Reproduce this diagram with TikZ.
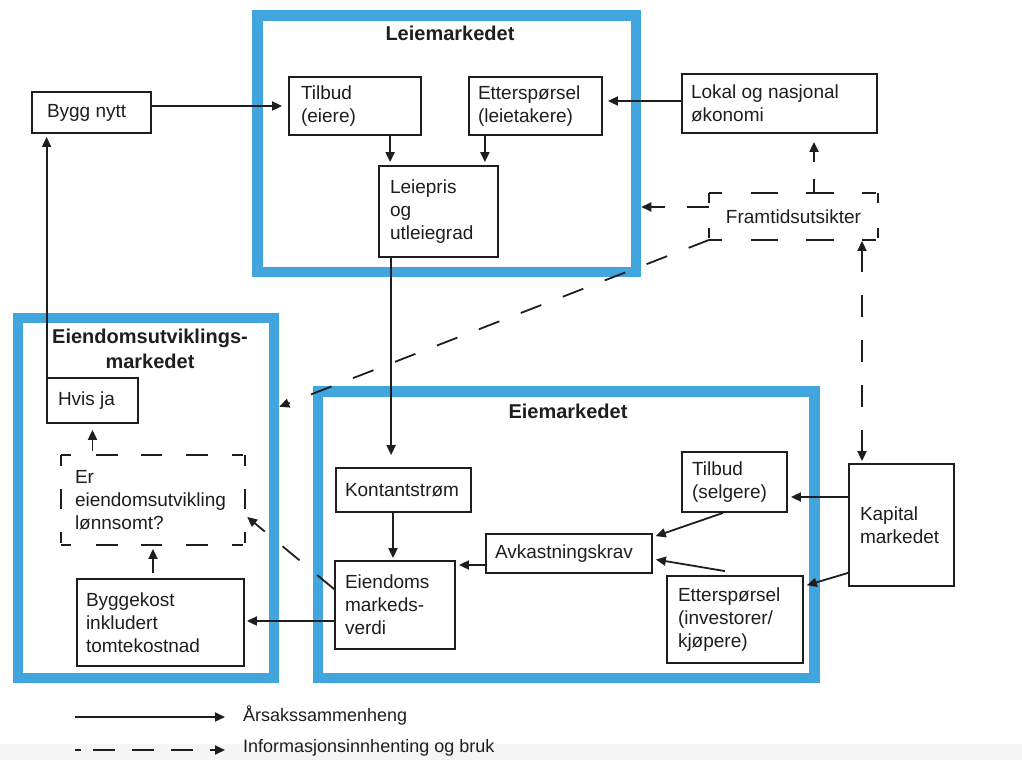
\documentclass[tikz,border=0pt]{standalone}
\usepackage{fontspec}
\setmainfont{Liberation Sans}
\usetikzlibrary{arrows.meta,calc}
\definecolor{frameblue}{RGB}{66,166,222}
\definecolor{ink}{RGB}{30,30,30}
\definecolor{stripgray}{RGB}{245,245,245}
\begin{document}
\begin{tikzpicture}[x=1pt,y=-1pt,
  frame/.style={draw=frameblue, line width=10.5pt, inner sep=0pt},
  title/.style={font=\fontsize{20}{25}\selectfont\bfseries, text=ink, inner sep=0pt},
  box/.style n args={3}{draw=ink, line width=1.8pt, fill=white, align=flush left,
    inner xsep=0pt, inner ysep=0pt, minimum width=#1, minimum height=#2, text width=#3,
    font=\fontsize{19}{23}\selectfont, text=ink},
  openbox/.style={draw=none},
  dside/.style={draw=ink, line width=1.8pt, line cap=square},
  arr/.style={draw=ink, line width=1.8pt, -{Triangle[length=10pt,width=9pt]}},
  darr/.style={arr, dash pattern=on 22pt off 23pt},
  legendtext/.style={font=\fontsize{18}{22}\selectfont, text=ink, inner sep=0pt, anchor=west}
]
\useasboundingbox (0,0) rectangle (1022,760);
\fill[stripgray] (0,744) rectangle (1022,760);

% market frames
\node[frame, minimum width=378.5pt, minimum height=256.5pt] (leie) at (446.75,143.75) {};
\node[frame, minimum width=256pt, minimum height=360pt] (eu) at (146,498) {};
\node[frame, minimum width=496.5pt, minimum height=286.5pt] (eie) at (566.25,534.75) {};
\node[title] (tleie) at (450,33) {Leiemarkedet};
\node[title, align=center] (teu) at (150,348.5) {Eiendomsutviklings-\\markedet};
\node[title] (teie) at (568,411) {Eiemarkedet};

% boxes
\node[box={119pt}{41pt}{89pt}] (bygg) at (91.5,112.5) {Bygg nytt};
\node[box={132pt}{58pt}{108pt}] (tilbudE) at (355,106) {Tilbud\\(eiere)};
\node[box={133pt}{58pt}{115pt}] (ettL) at (535.5,106) {Etterspørsel\\(leietakere)};
\node[box={119pt}{91pt}{97pt}] (leiepris) at (438.5,211.5) {Leiepris\\og\\utleiegrad};
\node[box={195pt}{59pt}{177pt}] (lokal) at (779.5,103.5) {Lokal og nasjonal\\økonomi};
\node[box={167pt}{45pt}{150pt}, openbox, align=center] (framtid) at (793.5,216.5) {Framtidsutsikter};
\node[box={91pt}{45pt}{69pt}] (hvis) at (92.5,400.5) {Hvis ja};
\node[box={182pt}{88pt}{156pt}, openbox] (er) at (153,500) {Er\\eiendomsutvikling\\lønnsomt?};
\node[box={167pt}{87pt}{149pt}] (bygge) at (160.5,622.5) {Byggekost\\inkludert\\tomtekostnad};
\node[box={135pt}{44pt}{117pt}] (kontant) at (403.5,490) {Kontantstrøm};
\node[box={120pt}{88pt}{100pt}] (eiendom) at (395,605) {Eiendoms\\markeds-\\verdi};
\node[box={166pt}{39pt}{148pt}] (avk) at (569,553.5) {Avkastningskrav};
\node[box={105pt}{60pt}{85pt}] (tsel) at (734.5,482) {Tilbud\\(selgere)};
\node[box={136pt}{87pt}{114pt}] (etti) at (735,619.5) {Etterspørsel\\(investorer/\\kjøpere)};
\node[box={105pt}{122pt}{83pt}] (kapital) at (901.5,525) {Kapital\\markedet};

% dashed borders of the two open boxes
\begin{scope}[dside, dash pattern=on 13pt off 29pt on 27pt off 28pt on 28pt off 28pt on 14pt off 20pt]
  \draw (framtid.north west) -- (framtid.north east);
  \draw (framtid.south west) -- (framtid.south east);
\end{scope}
\begin{scope}[dside, dash pattern=on 10pt off 25pt on 10pt off 20pt]
  \draw (framtid.north west) -- (framtid.south west);
  \draw (framtid.north east) -- (framtid.south east);
\end{scope}
\begin{scope}[dside, dash pattern=on 10pt off 25pt on 22pt off 23pt on 21pt off 24pt on 22pt off 24pt on 11pt off 20pt]
  \draw (er.north west) -- (er.north east);
  \draw (er.south west) -- (er.south east);
\end{scope}
\begin{scope}[dside, dash pattern=on 11pt off 23pt on 20pt off 23pt on 11pt off 20pt]
  \draw (er.north west) -- (er.south west);
  \draw (er.north east) -- (er.south east);
\end{scope}

% solid connectors
\draw[arr, shorten >=6pt] (bygg.east |- tilbudE.west) -- (tilbudE.west);
\coordinate (c2) at ([xshift=12pt]leiepris.north west);
\draw[arr, shorten >=3pt] (c2 |- tilbudE.south) -- (c2);
\coordinate (c3) at ([xshift=-14pt]leiepris.north east);
\draw[arr, shorten >=3pt] (c3 |- ettL.south) -- (c3);
\coordinate (c4) at ([yshift=2.5pt]lokal.west);
\draw[arr, shorten >=5pt] (c4) -- (c4 -| ettL.east);
\coordinate (c5) at ([xshift=13pt]leiepris.south west);
\draw[arr, shorten >=12pt] (c5) -- (c5 |- kontant.north);
\coordinate (c6) at ([xshift=-10.5pt]kontant.south);
\draw[arr, shorten >=2pt] (c6) -- (c6 |- eiendom.north);
\coordinate (c7) at ([yshift=-11.5pt]avk.west);
\draw[arr, shorten >=3pt] (c7) -- (c7 -| eiendom.east);
\coordinate (c8) at ([yshift=28pt]kapital.west);
\draw[arr, shorten >=3pt] (c8) -- (c8 -| tsel.east);
\draw[arr, shorten >=3pt] ([xshift=-11.5pt]tsel.south) -- ([yshift=-4pt]avk.north east);
\draw[arr, shorten >=3pt] ([xshift=-10pt,yshift=4pt]etti.north) -- ([yshift=-5.5pt]avk.east);
\draw[arr, shorten >=3pt] ([yshift=14pt]kapital.south west) -- ([yshift=-11pt]etti.north east);
\coordinate (c12) at ([yshift=-16pt]eiendom.west);
\draw[arr, shorten >=2pt] (c12) -- (c12 -| bygge.east);
\draw[arr, shorten <=5pt, shorten >=4pt] (er.south |- bygge.north) -- (er.south);
\draw[arr, shorten <=4pt, shorten >=6pt] (hvis.south |- er.north) -- (hvis.south);
\coordinate (c15) at ([xshift=0.5pt]hvis.north west);
\draw[arr, shorten >=3pt] (c15) -- (c15 |- bygg.south);

% dashed connectors
\coordinate (d1) at ([xshift=20.5pt]framtid.north);
\draw[darr, dash pattern=on 14pt off 17pt on 30pt off 20pt, shorten >=8pt] (d1) -- (d1 |- lokal.south);
\coordinate (d2) at ([yshift=9.5pt]framtid.west);
\draw[darr, dash pattern=on 22pt off 22pt on 22pt off 20pt] (d2) -- (d2 -| leie.east);
\draw[darr] (framtid.south west) -- ([yshift=-94pt]eu.north east);
\coordinate (d4) at ([xshift=-39.5pt]kapital.north);
\draw[darr, {Triangle[length=10pt,width=9pt]}-{Triangle[length=10pt,width=9pt]}, shorten >=1pt, shorten <=2pt] (d4) -- (d4 |- framtid.south);
\draw[darr, shorten >=3pt] ([yshift=-29pt]eiendom.north west) -- ([yshift=-15pt]er.east);

% legend
\coordinate (l1) at (75,717);
\coordinate (l2) at (225,717);
\coordinate (l3) at (75,750);
\coordinate (l4) at (225,750);
\draw[arr] (l1) -- (l2);
\draw[arr, dash pattern=on 6pt off 12pt on 22pt off 17pt on 22pt off 17pt on 22pt off 17pt] (l3) -- (l4);
\node[legendtext] (lt1) at (243,716) {Årsakssammenheng};
\node[legendtext] (lt2) at (243,748) {Informasjonsinnhenting og bruk};
\end{tikzpicture}
\end{document}
